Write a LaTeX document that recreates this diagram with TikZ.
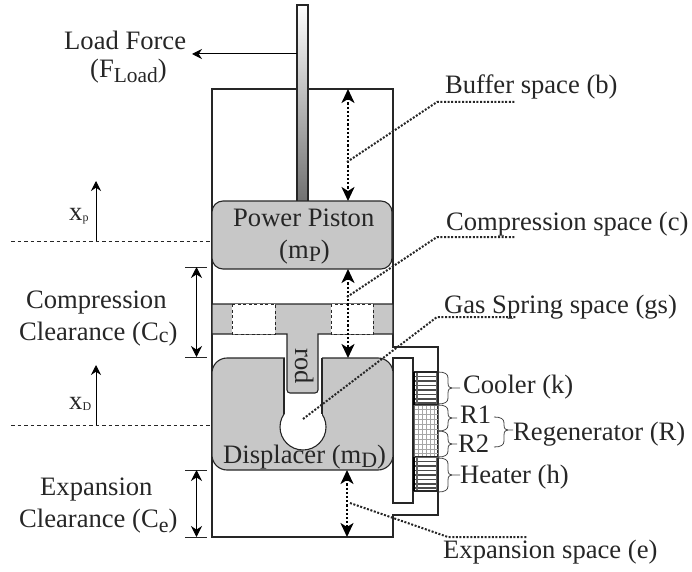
\documentclass[tikz,border=0pt]{standalone}
\usepackage{fontspec}
\setmainfont{Liberation Serif}
\usetikzlibrary{arrows.meta}
\definecolor{ink}{gray}{0.15}
\definecolor{solidgray}{gray}{0.78}
\newcommand{\lowsub}[3]{\raisebox{-#1bp}{\fontsize{#2}{#2}\selectfont #3}}
\newcommand{\hxbrace}[5]{% x0, y0, y1, ytip, xtip
  \draw[brace line] (#1,#2) .. controls ({#1+7},#2) and ({#1+10},{#2+2}) .. ({#1+10},{#2+6})
    -- ({#1+10},{#4-5}) .. controls ({#1+10},{#4-1}) and ({#1+12},#4) .. ({#1+14},#4) -- (#5,#4);
  \draw[brace line] ({#1+14},#4) .. controls ({#1+12},#4) and ({#1+10},{#4+1}) .. ({#1+10},{#4+5})
    -- ({#1+10},{#3-6}) .. controls ({#1+10},{#3-2}) and ({#1+7},#3) .. (#1,#3);}
\tikzset{
  x=1bp,y=-1bp,
  wall/.style={draw=ink,line width=1.1bp},
  solid part/.style={fill=solidgray,draw=ink,line width=1.1bp},
  window/.style={fill=white,draw=ink,line width=0.9bp,dash pattern=on 3bp off 2.5bp},
  brace line/.style={draw=ink!85,line width=0.8bp},
  label text/.style={inner sep=0pt,anchor=base west,text=ink,font=\fontsize{26.7}{30}\selectfont},
  gap arrow/.style={draw=black,line width=2.2bp,dash pattern=on 2.2bp off 2bp,{Stealth[length=14bp,width=13bp,inset=4bp]}-{Stealth[length=14bp,width=13bp,inset=4bp]}},
  leader/.style={draw=ink,line width=2bp,dash pattern=on 2bp off 1.6bp},
  datum/.style={draw=ink,line width=0.9bp,dash pattern=on 3.5bp off 3bp},
  motion/.style={draw=black,line width=1bp,-{Stealth[length=10bp,width=10bp]}},
  clearance/.style={draw=black,line width=1bp,{Stealth[length=11bp,width=11bp]}-{Stealth[length=11bp,width=11bp]}},
  tickline/.style={draw=ink,line width=0.9bp},
}
\begin{document}
\begin{tikzpicture}
\useasboundingbox (0,0) rectangle (692,572);
% cylinder
\draw[wall] (212,89) -- (393,89) -- (393,347) -- (438,347) -- (438,515) -- (393,515) -- (393,537) -- (212,537) -- cycle;
% inner white wall
\draw[wall,fill=white] (393,358) rectangle (413,503);
% rod
\shade[top color=white,middle color=black!26,bottom color=black!56] (297,5) rectangle (308,201);
\draw[wall] (297,201) -- (297,5) -- (308,5) -- (308,201);
% power piston
\draw[solid part,rounded corners=11bp] (212,201) rectangle (392,269);
% displacer body
\draw[solid part,rounded corners=15bp] (212,358) rectangle (393,470);
\draw[solid part,fill=white] (303,427) circle[radius=23];
\fill[white] (284.5,357) rectangle (321.5,425);
\draw[wall] (284,358) -- (284,414);
\draw[wall] (322,358) -- (322,414);
% plate and stem
\path[fill=solidgray] (212,304) rectangle (393,334);
\draw[solid part,rounded corners=0pt] (212,304) -- (393,304) -- (393,334) -- (318,334)
  [rounded corners=3bp] -- (318,393) -- (287,393) [rounded corners=0pt] -- (287,334) -- (212,334) -- cycle;
\draw[window] (232,304) rectangle (275,334);
\draw[window] (331,304) rectangle (373,334);
% heat exchanger
\foreach \yy in {376.5,381,385.5,390,394.5,399,403,461.5,466,470.5,475,479.5,484,488}
  \draw[draw=black!70,line width=1.3bp] (414,\yy) -- (438,\yy);
\foreach \yy in {409,414,419,424,429,434,439,444,449,453}
  \draw[draw=black!35,line width=0.7bp] (414,\yy) -- (438,\yy);
\foreach \xx in {418,422,426,430,434}
  \draw[draw=black!35,line width=0.7bp] (\xx,405) -- (\xx,457);
\foreach \xx in {416,417.5,436}{
  \draw[draw=black!60,line width=0.7bp] (\xx,372) -- (\xx,405);
  \draw[draw=black!60,line width=0.7bp] (\xx,457) -- (\xx,491);}
\draw[draw=ink,line width=1.1bp] (414,372) rectangle (438,405);
\draw[draw=ink,line width=1.1bp] (414,457) rectangle (438,491);
\draw[draw=black!60,line width=0.8bp] (414,405) rectangle (438,457);
\draw[draw=black,line width=2bp] (414,372) -- (414,405);
\draw[draw=black,line width=2bp] (414,457) -- (414,491);
% dotted gap arrows
\coordinate (bt) at (348,89);  \coordinate (bb) at (348,201);
\coordinate (ct) at (348,269); \coordinate (cb) at (348,358);
\coordinate (et) at (347,470); \coordinate (eb) at (347,537);
\draw[gap arrow] (bt) -- (bb);
\draw[gap arrow] (ct) -- (cb);
\draw[gap arrow] (et) -- (eb);
% leaders
\coordinate (l1) at (347,162); \coordinate (k1) at (437,102); \coordinate (e1) at (516,102);
\coordinate (l2) at (347,297); \coordinate (k2) at (437,237); \coordinate (e2) at (516,237);
\coordinate (l3) at (303,419); \coordinate (k3) at (437,317); \coordinate (e3) at (516,317);
\coordinate (l4) at (350,503); \coordinate (k4) at (448,537); \coordinate (e4) at (527,537);
\draw[leader] (l1) -- (k1) -- (e1);
\draw[leader] (l2) -- (k2) -- (e2);
\draw[leader] (l3) -- (k3) -- (e3);
\draw[leader] (l4) -- (k4) -- (e4);
% load force
\node[label text] (loadA) at (64,50) {Load Force};
\node[label text] (loadB) at (90,78) {(F\lowsub{5}{21.5}{Load})};
\coordinate (rodload) at (297,54);
\coordinate (loadtip) at (192,54);
\draw[motion] (rodload) -- (loadtip);
% datums and motion arrows
\coordinate (d1a) at (11,241); \coordinate (d1b) at (212,241); \coordinate (m1a) at (96,241); \coordinate (m1b) at (96,181);
\coordinate (d2a) at (11,425); \coordinate (d2b) at (212,425); \coordinate (m2a) at (96,425); \coordinate (m2b) at (96,365);
\draw[datum] (d1a) -- (d1b);
\draw[datum] (d2a) -- (d2b);
\draw[motion] (m1a) -- (m1b);
\draw[motion] (m2a) -- (m2b);
\node[label text] (xp) at (69,220) {x\lowsub{1}{12}{p}};
\node[label text] (xd) at (69,409) {x\lowsub{1}{12}{D}};
% clearances
\coordinate (c1a) at (185,267); \coordinate (c1b) at (207,267);
\coordinate (c2a) at (185,357); \coordinate (c2b) at (207,357);
\coordinate (c3a) at (185,470); \coordinate (c3b) at (207,470);
\coordinate (c4a) at (185,537); \coordinate (c4b) at (207,537);
\coordinate (a1) at (196.5,267); \coordinate (a2) at (196.5,357);
\coordinate (a3) at (196.5,470); \coordinate (a4) at (196.5,537);
\draw[tickline] (c1a) -- (c1b);
\draw[tickline] (c2a) -- (c2b);
\draw[tickline] (c3a) -- (c3b);
\draw[tickline] (c4a) -- (c4b);
\draw[clearance] (a1) -- (a2);
\draw[clearance] (a3) -- (a4);
\node[label text] (cc1) at (26,308) {Compression};
\node[label text] (cc2) at (19,340) {Clearance (C\lowsub{2}{22}{c})};
\node[label text] (ce1) at (40,495) {Expansion};
\node[label text] (ce2) at (19,527) {Clearance (C\lowsub{5}{22}{e})};
% parts
\node[label text] (pp1) at (233,226) {Power Piston};
\node[label text] (pp2) at (279,258) {(m\lowsub{3}{22}{P})};
\node[label text] (disp) at (223,463) {Displacer (m\lowsub{4}{22}{D})};
\node[label text,rotate=-90] (rod) at (295,348) {rod};
% right labels
\node[label text] (buf) at (445,94) {Buffer space (b)};
\node[label text] (comp) at (446,230) {Compression space (c)};
\node[label text] (gas) at (444,313) {Gas Spring space (gs)};
\node[label text] (exp) at (443,558) {Expansion space (e)};
\node[label text] (cool) at (463,393) {Cooler (k)};
\node[label text] (r1) at (460,423) {R1};
\node[label text] (r2) at (458,452) {R2};
\node[label text] (regen) at (513,440) {Regenerator (R)};
\node[label text] (heat) at (460,483) {Heater (h)};
% braces
\hxbrace{438}{372}{404}{388}{460}
\hxbrace{438}{405}{431}{418}{457}
\hxbrace{438}{431}{457}{444}{457}
\hxbrace{438}{458}{492}{475}{460}
\hxbrace{494}{417}{447}{430}{513}
\end{tikzpicture}
\end{document}
